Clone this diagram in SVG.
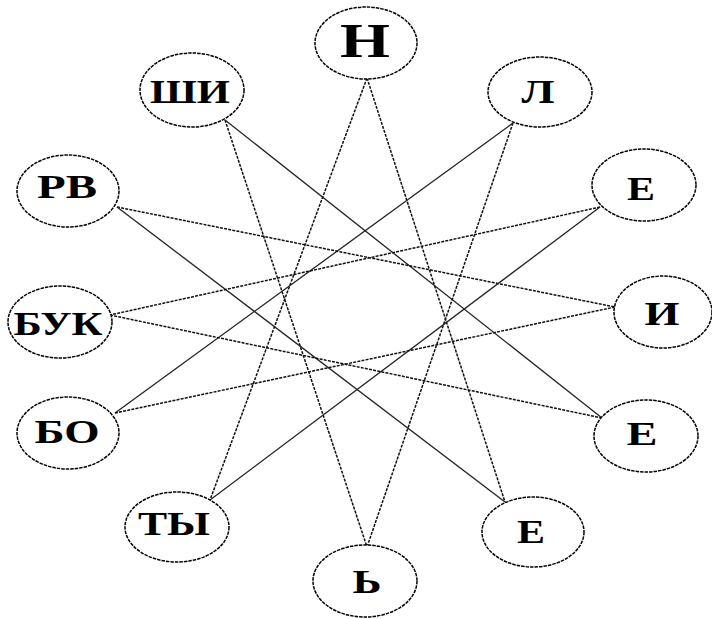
<svg xmlns="http://www.w3.org/2000/svg" width="712" height="619" viewBox="0 0 712 619">
<style>
.n{fill:#fff;stroke:#000;stroke-width:1.5;stroke-dasharray:3.5 1}
.t{font-family:"Liberation Serif","Times New Roman",serif;font-weight:bold;font-size:34px;fill:#000;text-anchor:middle}
.d{stroke:#111;stroke-width:1.5;stroke-dasharray:3 1.2;fill:none}
.s{stroke:#222;stroke-width:1.3;fill:none}
</style>
<rect width="712" height="619" fill="#fff"/>
<g id="connectors">
<line class="d" x1="367" y1="78" x2="210" y2="500"/>
<line class="d" x1="367" y1="78" x2="505" y2="502"/>
<line class="d" x1="225" y1="120" x2="367" y2="547"/>
<line class="s" x1="225" y1="120" x2="602" y2="418"/>
<line class="s" x1="513" y1="123" x2="115" y2="413"/>
<line class="d" x1="513" y1="123" x2="367" y2="547"/>
<line class="d" x1="117" y1="207" x2="615" y2="307"/>
<line class="s" x1="117" y1="207" x2="505" y2="502"/>
<line class="d" x1="600" y1="207" x2="110" y2="315"/>
<line class="s" x1="600" y1="207" x2="210" y2="500"/>
<line class="d" x1="110" y1="315" x2="602" y2="418"/>
<line class="d" x1="615" y1="307" x2="115" y2="413"/>
</g>
<g id="node-N"><ellipse class="n" cx="366" cy="43" rx="51" ry="36"/><text class="t" x="365" y="57" style="font-size:48px" textLength="50" lengthAdjust="spacingAndGlyphs">Н</text></g>
<g id="node-SHI"><ellipse class="n" cx="192" cy="90" rx="52" ry="37"/><text class="t" x="190" y="103" textLength="80" lengthAdjust="spacingAndGlyphs">ШИ</text></g>
<g id="node-L"><ellipse class="n" cx="540" cy="92" rx="52" ry="35"/><text class="t" x="538" y="103" textLength="33" lengthAdjust="spacingAndGlyphs">Л</text></g>
<g id="node-RV"><ellipse class="n" cx="68" cy="191" rx="51" ry="36"/><text class="t" x="67" y="198" textLength="60" lengthAdjust="spacingAndGlyphs">РВ</text></g>
<g id="node-E1"><ellipse class="n" cx="644" cy="185" rx="52" ry="36"/><text class="t" x="641" y="200" textLength="28" lengthAdjust="spacingAndGlyphs">Е</text></g>
<g id="node-BUK"><ellipse class="n" cx="60" cy="322" rx="52" ry="36"/><text class="t" x="58" y="335" textLength="89" lengthAdjust="spacingAndGlyphs">БУК</text></g>
<g id="node-I"><ellipse class="n" cx="663" cy="312" rx="49" ry="36"/><text class="t" x="662" y="325" textLength="35" lengthAdjust="spacingAndGlyphs">И</text></g>
<g id="node-BO"><ellipse class="n" cx="68" cy="433" rx="51" ry="36"/><text class="t" x="67" y="443" textLength="65" lengthAdjust="spacingAndGlyphs">БО</text></g>
<g id="node-E2"><ellipse class="n" cx="646" cy="436" rx="52" ry="36"/><text class="t" x="642" y="445" textLength="31" lengthAdjust="spacingAndGlyphs">Е</text></g>
<g id="node-TY"><ellipse class="n" cx="177" cy="527" rx="52" ry="35"/><text class="t" x="174" y="535" textLength="72" lengthAdjust="spacingAndGlyphs">ТЫ</text></g>
<g id="node-SOFT"><ellipse class="n" cx="365" cy="581" rx="52" ry="36"/><text class="t" x="367" y="593" textLength="29" lengthAdjust="spacingAndGlyphs">Ь</text></g>
<g id="node-E3"><ellipse class="n" cx="533" cy="532" rx="51" ry="35"/><text class="t" x="531" y="543" textLength="28" lengthAdjust="spacingAndGlyphs">Е</text></g>
</svg>
